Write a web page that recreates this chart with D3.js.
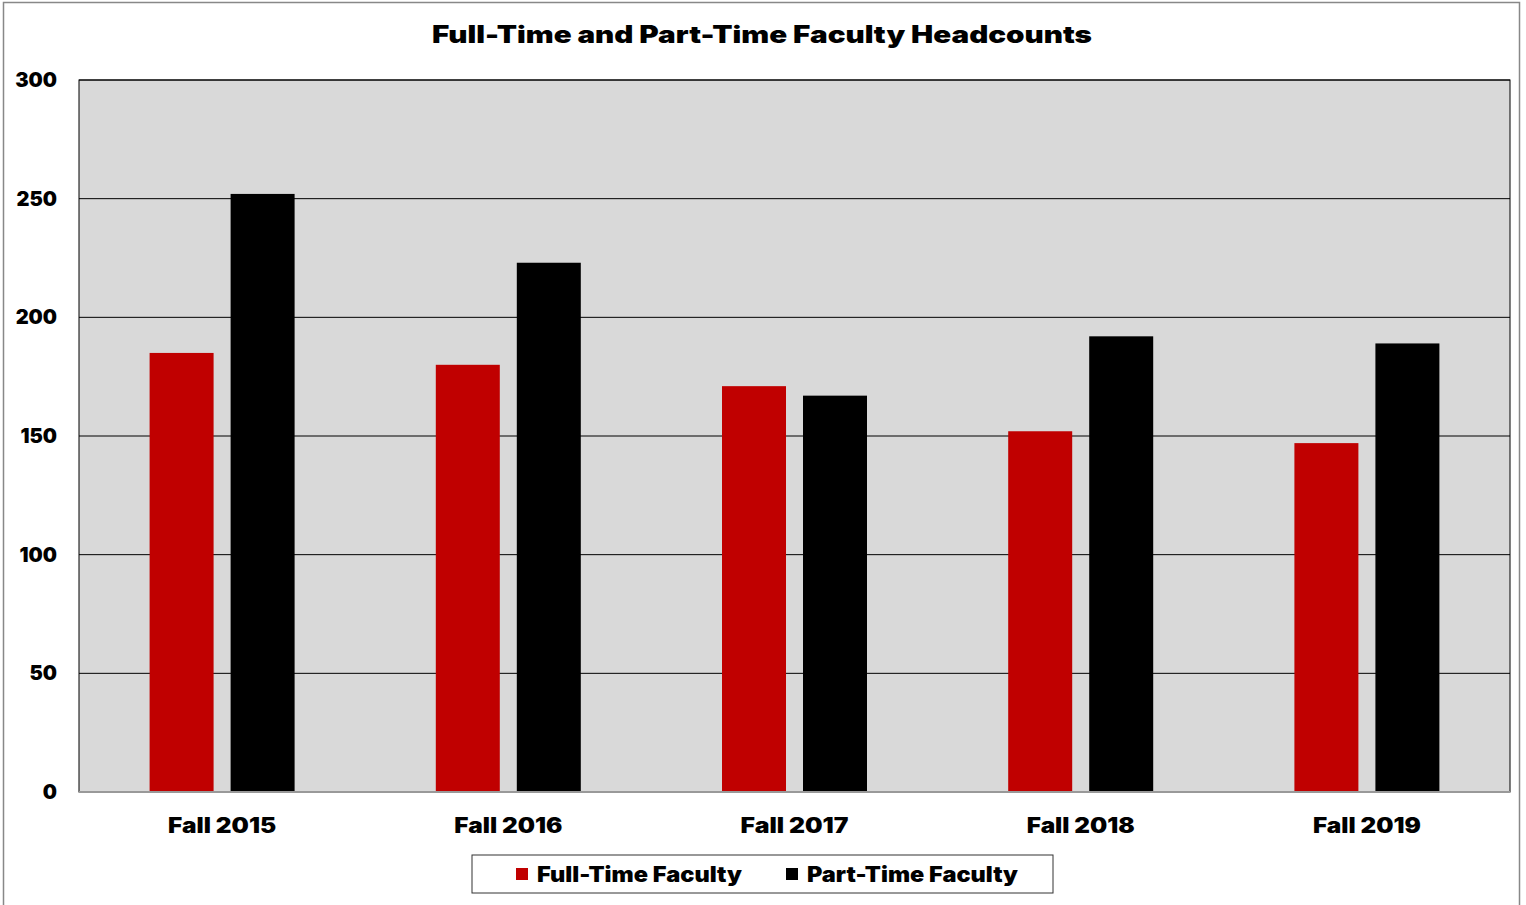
<!DOCTYPE html>
<html><head><meta charset="utf-8">
<script src="https://cdn.jsdelivr.net/npm/d3@7"></script>
<style>
body{margin:0;background:#fff;}
text{font-family:"Inter","Lato","Liberation Sans",sans-serif;font-weight:900;fill:#000;}
</style></head>
<body>
<svg id="c" width="1526" height="905"></svg>
<script>
const categories = ["Fall 2015","Fall 2016","Fall 2017","Fall 2018","Fall 2019"];
const seriesNames = ["Full-Time Faculty","Part-Time Faculty"];
const fullTime = [185,180,171,152,147];
const partTime = [252,223,167,192,189];
const yTicks = [0,50,100,150,200,250,300];
const colors = ["#C00000","#000000"];

const svg = d3.select("#c");
svg.append("rect").attr("x",3.5).attr("y",2.5).attr("width",1516).attr("height",910)
  .attr("fill","#fff").attr("stroke","#888").attr("stroke-width",1.5);

const L=79,R=1510,T=80,B=792;
const x = d3.scaleBand().domain(categories).range([L,R]);
const y = d3.scaleLinear().domain([0,300]).range([B,T]);
const xs = d3.scaleBand().domain(seriesNames).range([-72.5,72.5]).paddingInner(0.21);

svg.append("rect").attr("x",L).attr("y",T).attr("width",R-L).attr("height",B-T).attr("fill","#D9D9D9");

const g = svg.append("g");
g.selectAll("line.grid").data(yTicks.filter(d=>d>0)).join("line")
  .attr("x1",L).attr("x2",R).attr("y1",d=>y(d)).attr("y2",d=>y(d))
  .attr("stroke","#000").attr("stroke-width",1);

const data = categories.map((c,i)=>({c, vals:[fullTime[i],partTime[i]]}));
data.forEach(d=>{
  d.vals.forEach((v,j)=>{
    g.append("rect")
      .attr("x", x(d.c)+x.bandwidth()/2+xs(seriesNames[j]))
      .attr("width", xs.bandwidth())
      .attr("y", y(v)).attr("height", B-y(v))
      .attr("fill", colors[j]);
  });
});

svg.append("rect").attr("x",L).attr("y",T).attr("width",R-L).attr("height",B-T)
  .attr("fill","none").attr("stroke","#000").attr("stroke-width",1);
svg.append("line").attr("x1",L).attr("x2",R).attr("y1",B).attr("y2",B).attr("stroke","#999").attr("stroke-width",2);

const yAxis = d3.axisLeft(y).tickValues(yTicks).tickSize(0).tickPadding(22);
const ya = svg.append("g").attr("transform",`translate(${L},0)`).call(yAxis);
ya.select(".domain").remove();
ya.attr("font-family",null).attr("font-size",null);
ya.selectAll("text").style("font-size","20px");

const xAxis = d3.axisBottom(x).tickSize(0).tickPadding(26);
const xa = svg.append("g").attr("transform",`translate(0,${B})`).call(xAxis);
xa.select(".domain").remove();
xa.attr("font-family",null).attr("font-size",null);
xa.selectAll("text").style("font-size","21px")
  .attr("textLength",108).attr("lengthAdjust","spacingAndGlyphs");

svg.append("text").attr("x",762).attr("y",43).attr("text-anchor","middle")
  .style("font-size","24px").attr("textLength",660).attr("lengthAdjust","spacingAndGlyphs")
  .text("Full-Time and Part-Time Faculty Headcounts");

svg.append("rect").attr("x",472).attr("y",855).attr("width",581).attr("height",38)
  .attr("fill","#fff").attr("stroke","#333").attr("stroke-width",1);
const lx=[516,786];
const lw=[205,211];
seriesNames.forEach((s,j)=>{
  svg.append("rect").attr("x",lx[j]).attr("y",868).attr("width",12).attr("height",12).attr("fill",colors[j]);
  svg.append("text").attr("x",lx[j]+21).attr("y",882).style("font-size","21px")
    .attr("textLength",lw[j]).attr("lengthAdjust","spacingAndGlyphs").text(s);
});
</script>
</body></html>
